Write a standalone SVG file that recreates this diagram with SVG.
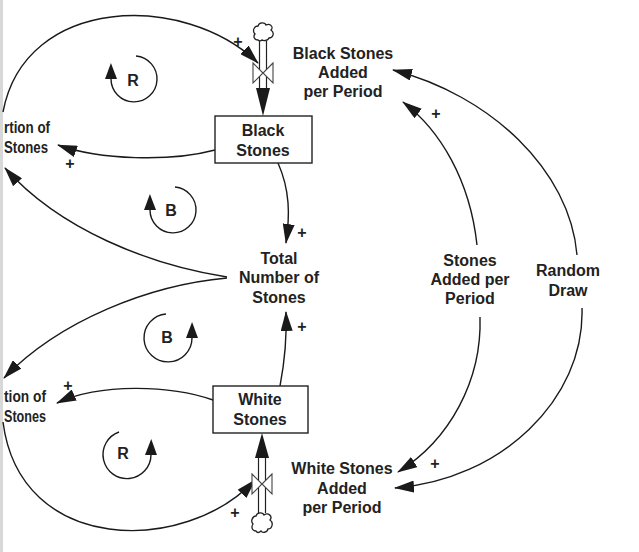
<svg xmlns="http://www.w3.org/2000/svg" width="639" height="552" viewBox="0 0 639 552">
  <defs>
    <marker id="arr" markerUnits="userSpaceOnUse" markerWidth="20" markerHeight="12" viewBox="0 0 20 12" refX="19" refY="6" orient="auto">
      <path d="M0,0 L20,6 L0,12 Z" fill="#1a1a1a"/>
    </marker>
    <marker id="loop" markerUnits="userSpaceOnUse" markerWidth="16" markerHeight="12" viewBox="0 0 16 12" refX="0" refY="6" orient="auto">
      <path d="M0,0 L16,6 L0,12 Z" fill="#1a1a1a"/>
    </marker>
    <style>
      .lbl { font-family: "Liberation Sans", Arial, sans-serif; font-weight: bold; font-size: 16px; fill: #222; text-anchor: middle; }
      .lft { font-family: "Liberation Sans", Arial, sans-serif; font-weight: bold; font-size: 16px; fill: #222; text-anchor: start; }
      .pl { font-family: "Liberation Sans", Arial, sans-serif; font-weight: bold; font-size: 16px; fill: #222; text-anchor: middle; }
      .con { fill: none; stroke: #1a1a1a; stroke-width: 1.4; marker-end: url(#arr); }
      .lp { fill: none; stroke: #1a1a1a; stroke-width: 1.4; marker-end: url(#loop); }
      .box { fill: #fff; stroke: #222; stroke-width: 1.4; }
      .pipe { fill: none; stroke: #222; stroke-width: 1.2; }
      .valve { fill: #fff; stroke: #444; stroke-width: 1.1; }
      .cloud { fill: #fff; stroke: #222; stroke-width: 1.3; }
      .head { fill: #1a1a1a; }
    </style>
  </defs>
  <rect x="0" y="0" width="639" height="552" fill="#fff"/>
  <rect x="0" y="0" width="3" height="552" fill="#d8d8d8"/>

  <g id="connectors">
    <path class="con" d="M3,112 C25,-5 185,-8 258,63"/>
    <path class="con" d="M3,422 C20,555 185,555 255,480"/>
    <path class="con" d="M215,150 C170,162 100,160 58,145"/>
    <path class="con" d="M213,400 C170,385 100,383 57,403"/>
    <path class="con" d="M227,277 C150,265 60,230 5,168"/>
    <path class="con" d="M227,278 C150,285 60,320 4,378"/>
    <path class="con" d="M278,163 C290,190 290,215 286,243"/>
    <path class="con" d="M280,386 C285,360 287,340 286,312"/>
    <path class="con" d="M477,245 C470,180 440,130 403,102"/>
    <path class="con" d="M480,317 C482,380 450,440 398,472"/>
    <path class="con" d="M577,255 C570,170 490,95 393,70"/>
    <path class="con" d="M582,308 C585,400 500,480 395,488"/>

    <text class="pl" x="238" y="47">+</text>
    <text class="pl" x="436" y="119">+</text>
    <text class="pl" x="70" y="169">+</text>
    <text class="pl" x="302" y="238">+</text>
    <text class="pl" x="302" y="332">+</text>
    <text class="pl" x="68" y="391">+</text>
    <text class="pl" x="235" y="518">+</text>
    <text class="pl" x="435" y="469">+</text>
  </g>

  <g id="loop-R1">
    <path class="lp" d="M136,56 A23,23 0 1,1 111,79"/>
    <text class="lbl" x="133" y="86">R</text>
  </g>
  <g id="loop-B1">
    <path class="lp" d="M175,187 A23,23 0 1,1 150,210"/>
    <text class="lbl" x="171" y="216">B</text>
  </g>
  <g id="loop-B2">
    <path class="lp" d="M166,314 A24,24 0 1,0 192,338"/>
    <text class="lbl" x="167" y="343">B</text>
  </g>
  <g id="loop-R2">
    <path class="lp" d="M119,432 A24,24 0 1,0 151,455"/>
    <text class="lbl" x="123" y="459">R</text>
  </g>

  <g id="black-inflow">
    <path class="cloud" d="M258,40 C254,40 253,36 255,34 C252,31 254,26 258,26 C259,22 265,22 266,25 C270,23 274,27 271,30 C275,33 273,38 269,38 C268,41 263,41 262,40 C261,41 259,41 258,40 Z"/>
    <line class="pipe" x1="259.5" y1="41" x2="259.5" y2="89"/>
    <line class="pipe" x1="266.5" y1="41" x2="266.5" y2="89"/>
    <path class="valve" d="M253,63 L263,73 L253,83 Z M273,63 L263,73 L273,83 Z"/>
    <polygon class="head" points="256,88 270,88 263,116"/>
  </g>

  <g id="white-inflow">
    <path class="cloud" d="M256,531 C252,531 251,527 253,524 C250,521 253,516 256,516 C257,512 263,512 264,515 C268,512 273,516 270,520 C274,523 272,529 268,529 C267,533 262,533 261,531 C259,533 257,533 256,531 Z"/>
    <line class="pipe" x1="258.5" y1="457" x2="258.5" y2="513"/>
    <line class="pipe" x1="265.5" y1="457" x2="265.5" y2="513"/>
    <path class="valve" d="M252,474 L262,484 L252,494 Z M272,474 L262,484 L272,494 Z"/>
    <polygon class="head" points="255,458 269,458 262,433"/>
  </g>

  <g id="black-stones">
    <rect class="box" x="215" y="116" width="97" height="47"/>
    <text class="lbl" x="263" y="136">Black</text>
    <text class="lbl" x="263" y="156">Stones</text>
  </g>
  <g id="white-stones">
    <rect class="box" x="213" y="386" width="95" height="47"/>
    <text class="lbl" x="260" y="405">White</text>
    <text class="lbl" x="260" y="425">Stones</text>
  </g>
  <g id="black-stones-added">
    <text class="lbl" x="343" y="59">Black Stones</text>
    <text class="lbl" x="343" y="78">Added</text>
    <text class="lbl" x="343" y="97">per Period</text>
  </g>
  <g id="white-stones-added">
    <text class="lbl" x="342" y="474">White Stones</text>
    <text class="lbl" x="342" y="494">Added</text>
    <text class="lbl" x="342" y="513">per Period</text>
  </g>
  <g id="total-stones">
    <text class="lbl" x="279" y="264">Total</text>
    <text class="lbl" x="279" y="283">Number of</text>
    <text class="lbl" x="279" y="303">Stones</text>
  </g>
  <g id="stones-added-per-period">
    <text class="lbl" x="470" y="266">Stones</text>
    <text class="lbl" x="470" y="285">Added per</text>
    <text class="lbl" x="470" y="304">Period</text>
  </g>
  <g id="random-draw">
    <text class="lbl" x="568" y="276">Random</text>
    <text class="lbl" x="568" y="296">Draw</text>
  </g>
  <g id="proportion-black">
    <text class="lft" x="4" y="133" textLength="46" lengthAdjust="spacingAndGlyphs">rtion of</text>
    <text class="lft" x="4" y="153" textLength="44" lengthAdjust="spacingAndGlyphs">Stones</text>
  </g>
  <g id="proportion-white">
    <text class="lft" x="4" y="402" textLength="42" lengthAdjust="spacingAndGlyphs">tion of</text>
    <text class="lft" x="4" y="422" textLength="42" lengthAdjust="spacingAndGlyphs">Stones</text>
  </g>
</svg>
